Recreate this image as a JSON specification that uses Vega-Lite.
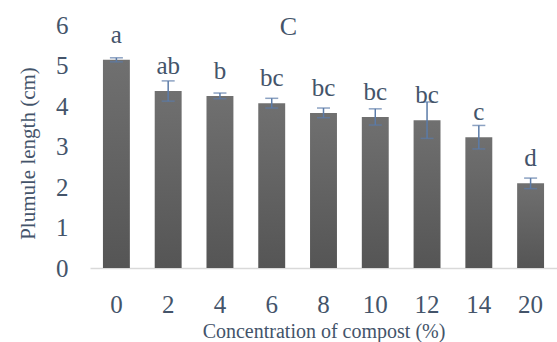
{
  "$schema": "https://vega.github.io/schema/vega-lite/v6.json",
  "autosize": "none",
  "width": 467,
  "height": 243,
  "padding": {"left": 90, "top": 25, "right": 0, "bottom": 74},
  "background": "white",
  "config": {
    "view": {"stroke": null},
    "font": "Liberation Serif"
  },
  "title": {
    "text": "C",
    "font": "Liberation Serif",
    "fontSize": 26,
    "fontWeight": "normal",
    "color": "#44546A",
    "anchor": "middle",
    "dx": -35,
    "offset": -40,
    "baseline": "middle"
  },
  "data": {
    "values": [
      {"conc": "0", "mean": 5.14, "lo": 5.09, "hi": 5.19, "label": "a"},
      {"conc": "2", "mean": 4.37, "lo": 4.12, "hi": 4.62, "label": "ab"},
      {"conc": "4", "mean": 4.25, "lo": 4.18, "hi": 4.32, "label": "b"},
      {"conc": "6", "mean": 4.07, "lo": 3.95, "hi": 4.19, "label": "bc"},
      {"conc": "8", "mean": 3.83, "lo": 3.71, "hi": 3.95, "label": "bc"},
      {"conc": "10", "mean": 3.73, "lo": 3.53, "hi": 3.93, "label": "bc"},
      {"conc": "12", "mean": 3.65, "lo": 3.2, "hi": 4.1, "label": "bc"},
      {"conc": "14", "mean": 3.23, "lo": 2.94, "hi": 3.52, "label": "c"},
      {"conc": "20", "mean": 2.09, "lo": 1.96, "hi": 2.22, "label": "d"}
    ]
  },
  "encoding": {
    "x": {
      "field": "conc",
      "type": "nominal",
      "sort": null,
      "scale": {"paddingInner": 0.48, "paddingOuter": 0.25},
      "axis": {
        "title": "Concentration of compost (%)",
        "titleFont": "Liberation Serif",
        "titleFontSize": 20,
        "titleFontWeight": "normal",
        "titleColor": "#44546A",
        "titlePadding": 4,
        "labelFont": "Liberation Serif",
        "labelFontSize": 25,
        "labelColor": "#44546A",
        "labelAngle": 0,
        "labelPadding": 24,
        "labelOverlap": false,
        "ticks": false,
        "domain": true,
        "domainColor": "#D9D9D9",
        "domainWidth": 1.5,
        "grid": false
      }
    }
  },
  "layer": [
    {
      "mark": {
        "type": "bar",
        "color": {
          "gradient": "linear",
          "x1": 0, "y1": 0, "x2": 0, "y2": 1,
          "stops": [
            {"offset": 0, "color": "#707070"},
            {"offset": 1, "color": "#555555"}
          ]
        }
      },
      "encoding": {
        "y": {
          "field": "mean",
          "type": "quantitative",
          "scale": {"domain": [0, 6], "nice": false},
          "axis": {
            "title": "Plumule length (cm)",
            "titleFont": "Liberation Serif",
            "titleFontSize": 21,
            "titleFontWeight": "normal",
            "titleColor": "#44546A",
            "titlePadding": 17,
            "titleY": 128,
            "labelFont": "Liberation Serif",
            "labelFontSize": 25,
            "labelColor": "#44546A",
            "labelPadding": 22,
            "labelOverlap": false,
            "values": [0, 1, 2, 3, 4, 5, 6],
            "ticks": false,
            "domain": false,
            "grid": false
          }
        }
      }
    },
    {
      "mark": {"type": "rule", "color": "#5B7BA8", "strokeWidth": 1.5},
      "encoding": {
        "y": {"field": "lo", "type": "quantitative"},
        "y2": {"field": "hi"}
      }
    },
    {
      "mark": {"type": "tick", "color": "#5B7BA8", "size": 13, "thickness": 1.5},
      "encoding": {"y": {"field": "lo", "type": "quantitative"}}
    },
    {
      "mark": {"type": "tick", "color": "#5B7BA8", "size": 13, "thickness": 1.5},
      "encoding": {"y": {"field": "hi", "type": "quantitative"}}
    },
    {
      "mark": {
        "type": "text",
        "font": "Liberation Serif",
        "fontSize": 25,
        "color": "#44546A",
        "baseline": "alphabetic",
        "dy": -17
      },
      "encoding": {
        "y": {"field": "mean", "type": "quantitative"},
        "text": {"field": "label"}
      }
    }
  ]
}
